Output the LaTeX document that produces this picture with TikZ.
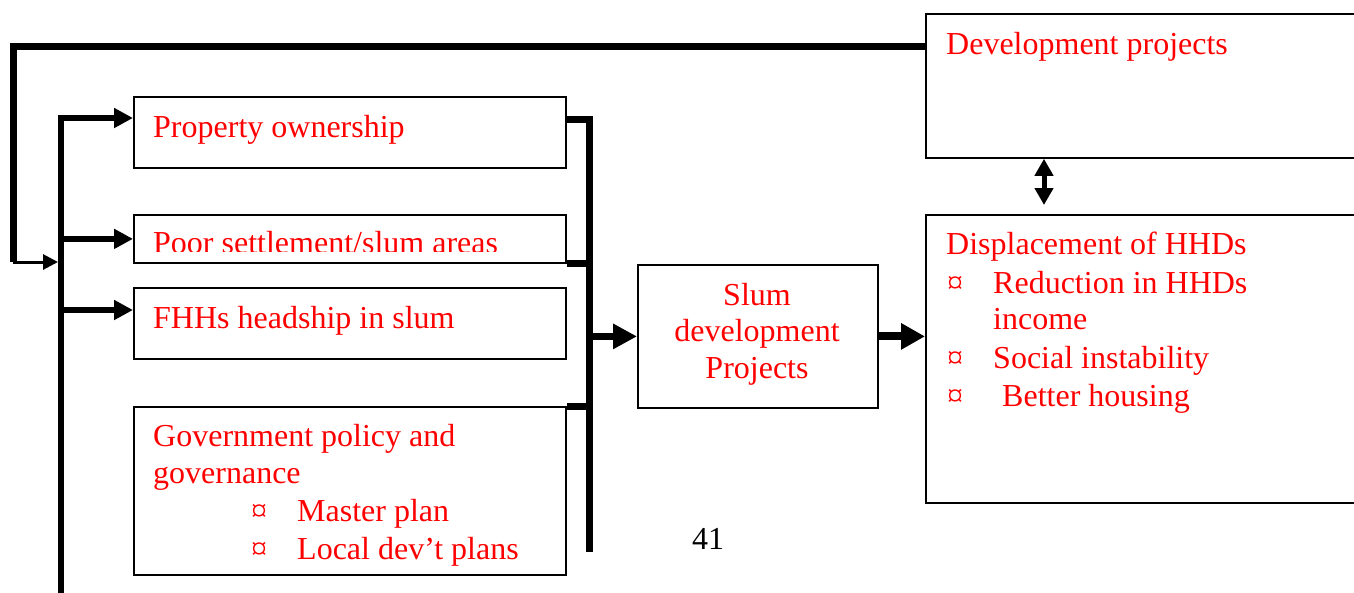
\documentclass[tikz,border=0pt]{standalone}
\usepackage{fontspec}
\setmainfont{Liberation Serif}
\usetikzlibrary{arrows.meta}

\begin{document}
\begin{tikzpicture}[x=1pt, y=-1pt,
  box/.style = {draw, line width=1.8pt, rectangle, anchor=north west, inner sep=0pt},
  txt/.style = {text=red, anchor=base west, inner sep=0pt, font=\fontsize{32}{38}\selectfont},
  bus/.style = {line width=7pt},
  conn/.style = {line width=6pt, -{Triangle[length=19pt, width=19pt]}},
  bigconn/.style = {line width=8pt, -{Triangle[length=24pt, width=25pt]}}]
\useasboundingbox (0,0) rectangle (1354,592);

% boxes
\node[box, minimum width=432, minimum height=71] (own) at (133,96) {};
\node[box, minimum width=432, minimum height=48] (poor) at (133,214) {};
\node[box, minimum width=432, minimum height=71] (fhh) at (133,287) {};
\node[box, minimum width=432, minimum height=168] (gov) at (133,406) {};
\node[box, minimum width=240, minimum height=143] (slum) at (637,264) {};
\node[box, minimum width=460, minimum height=144] (dev) at (925,13) {};
\node[box, minimum width=460, minimum height=288] (disp) at (925,214) {};

% texts
\node[txt] (ownT) at (153,137) {Property ownership};
\begin{scope}
\clip (133,214) rectangle (565,251.5);
\node[txt] (poorT) at (153,253) {Poor settlement/slum areas};
\end{scope}
\node[txt] (fhhT) at (153,328) {FHHs headship in slum};
\node[txt] (govT1) at (153,446) {Government policy and};
\node[txt] (govT2) at (153,483) {governance};
\node[txt] (govB1) at (251,521) {¤};
\node[txt] (govT3) at (297,521) {Master plan};
\node[txt] (govB2) at (251,559) {¤};
\node[txt] (govT4) at (297,559) {Local dev’t plans};
\node[txt, anchor=base] (slumT1) at (757,305) {Slum};
\node[txt, anchor=base] (slumT2) at (757,341) {development};
\node[txt, anchor=base] (slumT3) at (757,378) {Projects};
\node[txt] (devT) at (946,54) {Development projects};
\node[txt] (dispT1) at (946,254) {Displacement of HHDs};
\node[txt] (dispB1) at (947,293) {¤};
\node[txt] (dispT2) at (993,293) {Reduction in HHDs};
\node[txt] (dispT3) at (993,329) {income};
\node[txt] (dispB2) at (947,368) {¤};
\node[txt] (dispT4) at (993,368) {Social instability};
\node[txt] (dispB3) at (947,406) {¤};
\node[txt] (dispT5) at (1002,406) {Better housing};
\node[txt, text=black, anchor=base] (page) at (708,549) {41};

% bus points
\coordinate (fbTop) at (13,46);
\coordinate (fbBot) at (13,262);
\coordinate (lFb) at (58,262);
\coordinate (lTop) at (61,118);
\coordinate (lFhh) at (61,310);
\coordinate (lBot) at (61,600);
\coordinate (rTop) at (589,119);
\coordinate (rBot) at (589,552);
\coordinate (dbl) at (1044,205);

% feedback from development projects
\draw[bus] (dev.west |- fbTop) -- (fbTop) -- (fbBot);
\draw[line width=3pt, -{Triangle[length=15pt, width=15pt]}] (fbBot) -- (lFb);

% left side
\draw[conn] (lBot) -- (lTop) -- (own.west |- lTop);
\draw[conn] (lTop |- poor.west) -- (poor.west);
\draw[conn] (lFhh) -- (fhh.west |- lFhh);

% right side
\draw[bus] (own.east |- rTop) -| (rBot);
\draw[bus] (poor.south east) -- (rTop |- poor.south east);
\draw[bus] (gov.north east) -- (rTop |- gov.north east);
\draw[line width=7pt, -{Triangle[length=24pt, width=24pt]}] (rTop |- slum.west) -- (slum.west);
\draw[bigconn] (slum.east) -- (disp.west |- slum.east);
\draw[line width=5pt, {Triangle[length=17pt, width=18pt]}-{Triangle[length=17pt, width=18pt]}] (dbl |- dev.south) -- (dbl);
\end{tikzpicture}
\end{document}
